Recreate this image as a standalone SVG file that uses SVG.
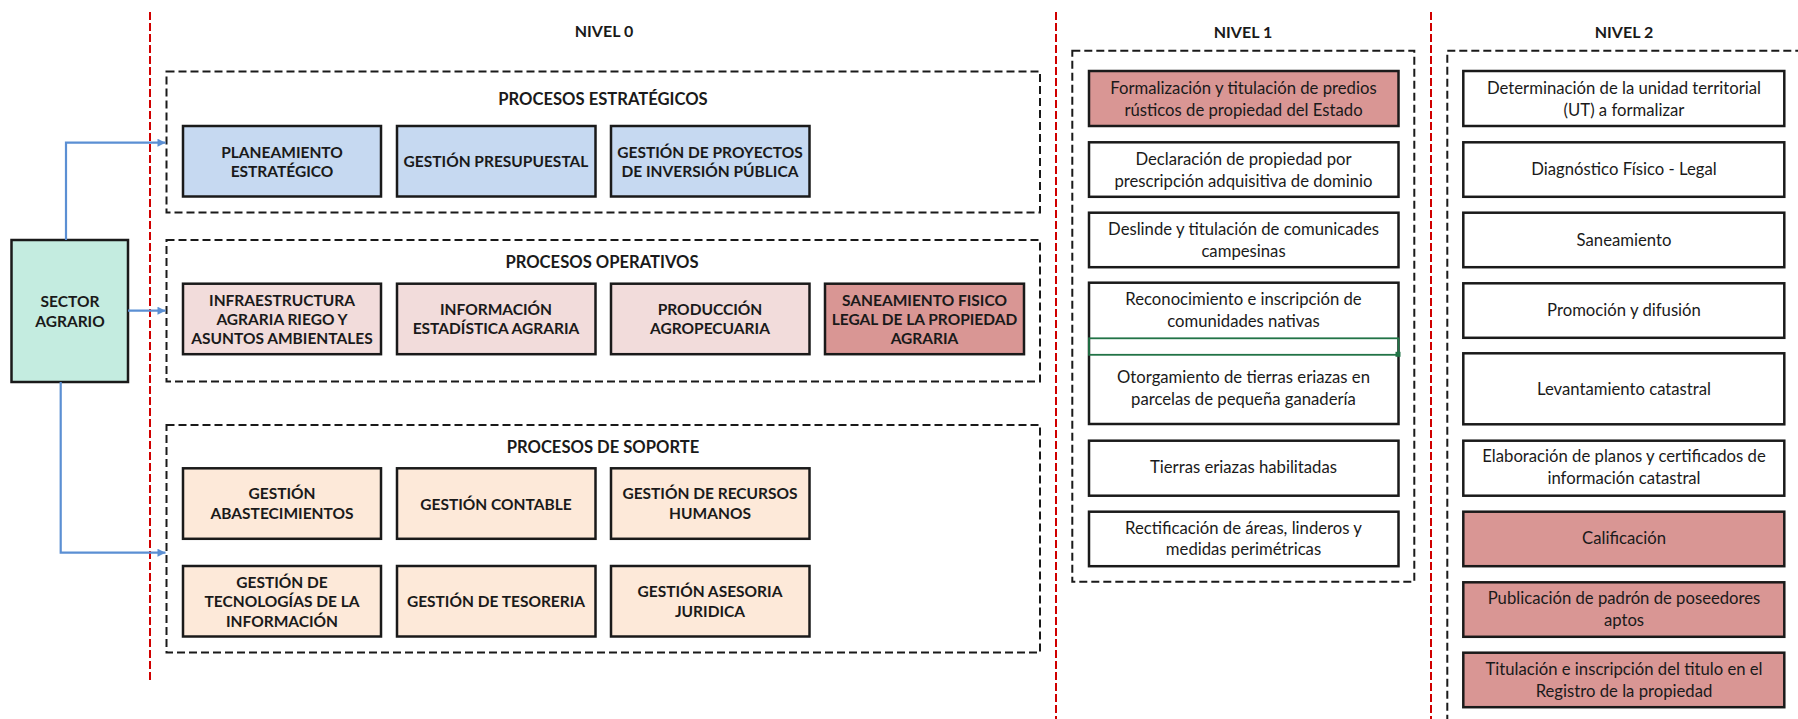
<svg xmlns="http://www.w3.org/2000/svg" width="1798" height="719" viewBox="0 0 1798 719">
  <style>
    text { font-family: Lato, "Open Sans", "Liberation Sans", sans-serif; fill: #1a1a1a; text-anchor: middle; }
    .hd { font-weight: 700; font-size: 16px; }
    .grp { font-weight: 700; font-size: 16.6px; }
    .b0 { font-weight: 700; font-size: 15.5px; }
    .lv { font-size: 16.7px; }
    .frame { fill: none; stroke: #1a1a1a; stroke-width: 2; stroke-dasharray: 8 4; }
    .divider { fill: none; stroke: #d00000; stroke-width: 2; stroke-dasharray: 8 3; }
    .box { stroke: #1a1a1a; stroke-width: 2.5; }
    .strat { fill: #c6d9f1; }
    .oper { fill: #f2dcdb; }
    .hot { fill: #d99694; }
    .supp { fill: #fde9d9; }
    .plain { fill: #ffffff; }
    .sector { fill: #c4ece0; }
    .conn { fill: none; stroke: #5b8fd3; stroke-width: 2.2; marker-end: url(#arr); }
  </style>
  <defs>
    <marker id="arr" viewBox="0 0 10 10" refX="10" refY="5" markerUnits="userSpaceOnUse" markerWidth="9" markerHeight="8" orient="auto">
      <path d="M0,0 L10,5 L0,10 z" fill="#5b8fd3"/>
    </marker>
  </defs>
  <rect width="1798" height="719" fill="#ffffff"/>

  <!-- column dividers -->
  <g id="dividers">
    <line class="divider" x1="150" y1="12" x2="150" y2="681"/>
    <line class="divider" x1="1056" y1="12" x2="1056" y2="719"/>
    <line class="divider" x1="1431" y1="12" x2="1431" y2="719"/>
  </g>

  <!-- column headings -->
  <g id="headings">
    <text class="hd" x="604" y="37">NIVEL 0</text>
    <text class="hd" x="1243" y="38">NIVEL 1</text>
    <text class="hd" x="1624" y="38">NIVEL 2</text>
  </g>

  <!-- process group frames -->
  <g id="grp-estrategicos">
    <rect class="frame" x="166.5" y="71.5" width="873.5" height="141"/>
    <text class="grp" x="603" y="105">PROCESOS ESTRATÉGICOS</text>
  </g>
  <g id="grp-operativos">
    <rect class="frame" x="166.5" y="240" width="873.5" height="141.5"/>
    <text class="grp" x="602" y="268">PROCESOS OPERATIVOS</text>
  </g>
  <g id="grp-soporte">
    <rect class="frame" x="166.5" y="425" width="873.5" height="227.5"/>
    <text class="grp" x="603" y="453">PROCESOS DE SOPORTE</text>
  </g>
  <g id="grp-nivel1">
    <rect class="frame" x="1072.3" y="50.7" width="342" height="531"/>
  </g>
  <g id="grp-nivel2">
    <rect class="frame" x="1447.3" y="50.7" width="420" height="720"/>
  </g>

  <!-- sector node -->
  <g id="sector-agrario">
    <rect class="box sector" x="11.5" y="240" width="116.5" height="142"/>
    <text class="b0" x="70" y="306.7">SECTOR</text>
    <text class="b0" x="70" y="326.7">AGRARIO</text>
  </g>

  <!-- strategic processes -->
  <g id="planeamiento">
    <rect class="box strat" x="183" y="126" width="198" height="70.5"/>
    <text class="b0" x="282" y="158">PLANEAMIENTO</text>
    <text class="b0" x="282" y="177">ESTRATÉGICO</text>
  </g>
  <g id="presupuestal">
    <rect class="box strat" x="397" y="126" width="198.5" height="70.5"/>
    <text class="b0" x="496" y="166.7">GESTIÓN PRESUPUESTAL</text>
  </g>
  <g id="proyectos">
    <rect class="box strat" x="611" y="126" width="198.5" height="70.5"/>
    <text class="b0" x="710" y="157.5">GESTIÓN DE PROYECTOS</text>
    <text class="b0" x="710" y="176.7">DE INVERSIÓN PÚBLICA</text>
  </g>

  <!-- operative processes -->
  <g id="infraestructura">
    <rect class="box oper" x="183" y="283.7" width="198" height="70.5"/>
    <text class="b0" x="282" y="306">INFRAESTRUCTURA</text>
    <text class="b0" x="282" y="325">AGRARIA RIEGO Y</text>
    <text class="b0" x="282" y="344">ASUNTOS AMBIENTALES</text>
  </g>
  <g id="informacion">
    <rect class="box oper" x="397" y="283.7" width="198.5" height="70.5"/>
    <text class="b0" x="496" y="315">INFORMACIÓN</text>
    <text class="b0" x="496" y="334">ESTADÍSTICA AGRARIA</text>
  </g>
  <g id="produccion">
    <rect class="box oper" x="611" y="283.7" width="198.5" height="70.5"/>
    <text class="b0" x="710" y="315">PRODUCCIÓN</text>
    <text class="b0" x="710" y="334">AGROPECUARIA</text>
  </g>
  <g id="saneamiento-fisico">
    <rect class="box hot" x="825" y="283.7" width="199" height="70.5"/>
    <text class="b0" x="924.5" y="306">SANEAMIENTO FISICO</text>
    <text class="b0" x="924.5" y="325">LEGAL DE LA PROPIEDAD</text>
    <text class="b0" x="924.5" y="344">AGRARIA</text>
  </g>

  <!-- support processes -->
  <g id="abastecimientos">
    <rect class="box supp" x="183" y="468.3" width="198" height="70.5"/>
    <text class="b0" x="282" y="499.3">GESTIÓN</text>
    <text class="b0" x="282" y="518.7">ABASTECIMIENTOS</text>
  </g>
  <g id="contable">
    <rect class="box supp" x="397" y="468.3" width="198.5" height="70.5"/>
    <text class="b0" x="496" y="510">GESTIÓN CONTABLE</text>
  </g>
  <g id="recursos-humanos">
    <rect class="box supp" x="611" y="468.3" width="198.5" height="70.5"/>
    <text class="b0" x="710" y="499.3">GESTIÓN DE RECURSOS</text>
    <text class="b0" x="710" y="518.7">HUMANOS</text>
  </g>
  <g id="tecnologias">
    <rect class="box supp" x="183" y="566" width="198" height="70.5"/>
    <text class="b0" x="282" y="588.3">GESTIÓN DE</text>
    <text class="b0" x="282" y="607.3">TECNOLOGÍAS DE LA</text>
    <text class="b0" x="282" y="626.7">INFORMACIÓN</text>
  </g>
  <g id="tesoreria">
    <rect class="box supp" x="397" y="566" width="198.5" height="70.5"/>
    <text class="b0" x="496" y="607.3">GESTIÓN DE TESORERIA</text>
  </g>
  <g id="asesoria">
    <rect class="box supp" x="611" y="566" width="198.5" height="70.5"/>
    <text class="b0" x="710" y="597.3">GESTIÓN ASESORIA</text>
    <text class="b0" x="710" y="616.7">JURIDICA</text>
  </g>

  <!-- level 1 -->
  <g id="n1-formalizacion">
    <rect class="box hot" x="1089" y="71" width="309.5" height="55"/>
    <text class="lv" x="1243.5" y="94">Formalización y titulación de predios</text>
    <text class="lv" x="1243.5" y="116">rústicos de propiedad del Estado</text>
  </g>
  <g id="n1-declaracion">
    <rect class="box plain" x="1089" y="142.3" width="309.5" height="54.5"/>
    <text class="lv" x="1243.5" y="165">Declaración de propiedad por</text>
    <text class="lv" x="1243.5" y="186.5">prescripción adquisitiva de dominio</text>
  </g>
  <g id="n1-deslinde">
    <rect class="box plain" x="1089" y="212.7" width="309.5" height="54.5"/>
    <text class="lv" x="1243.5" y="235">Deslinde y titulación de comunicades</text>
    <text class="lv" x="1243.5" y="256.7">campesinas</text>
  </g>
  <g id="n1-reconocimiento-otorgamiento">
    <rect class="box plain" x="1089" y="282.7" width="309.5" height="141.3"/>
    <text class="lv" x="1243.5" y="305">Reconocimiento e inscripción de</text>
    <text class="lv" x="1243.5" y="326.7">comunidades nativas</text>
    <rect x="1089" y="338.3" width="309.5" height="16.5" fill="none" stroke="#217346" stroke-width="1.8"/>
    <rect x="1395.5" y="351.8" width="5" height="5" fill="#217346"/>
    <text class="lv" x="1243.5" y="383.3">Otorgamiento de tierras eriazas en</text>
    <text class="lv" x="1243.5" y="405">parcelas de pequeña ganadería</text>
  </g>
  <g id="n1-tierras">
    <rect class="box plain" x="1089" y="440.7" width="309.5" height="55"/>
    <text class="lv" x="1243.5" y="473.3">Tierras eriazas habilitadas</text>
  </g>
  <g id="n1-rectificacion">
    <rect class="box plain" x="1089" y="511.7" width="309.5" height="54.5"/>
    <text class="lv" x="1243.5" y="533.5">Rectificación de áreas, linderos y</text>
    <text class="lv" x="1243.5" y="555">medidas perimétricas</text>
  </g>

  <!-- level 2 -->
  <g id="n2-determinacion">
    <rect class="box plain" x="1463.3" y="71" width="321" height="55"/>
    <text class="lv" x="1624" y="94">Determinación de la unidad territorial</text>
    <text class="lv" x="1624" y="115.5">(UT) a formalizar</text>
  </g>
  <g id="n2-diagnostico">
    <rect class="box plain" x="1463.3" y="142.3" width="321" height="54.5"/>
    <text class="lv" x="1624" y="175">Diagnóstico Físico - Legal</text>
  </g>
  <g id="n2-saneamiento">
    <rect class="box plain" x="1463.3" y="212.7" width="321" height="54.5"/>
    <text class="lv" x="1624" y="245.7">Saneamiento</text>
  </g>
  <g id="n2-promocion">
    <rect class="box plain" x="1463.3" y="283.3" width="321" height="54.5"/>
    <text class="lv" x="1624" y="316">Promoción y difusión</text>
  </g>
  <g id="n2-levantamiento">
    <rect class="box plain" x="1463.3" y="353.3" width="321" height="71"/>
    <text class="lv" x="1624" y="395">Levantamiento catastral</text>
  </g>
  <g id="n2-elaboracion">
    <rect class="box plain" x="1463.3" y="440.7" width="321" height="55"/>
    <text class="lv" x="1624" y="462.3">Elaboración de planos y certificados de</text>
    <text class="lv" x="1624" y="484.3">información catastral</text>
  </g>
  <g id="n2-calificacion">
    <rect class="box hot" x="1463.3" y="511.7" width="321" height="54.5"/>
    <text class="lv" x="1624" y="544.3">Calificación</text>
  </g>
  <g id="n2-publicacion">
    <rect class="box hot" x="1463.3" y="582.3" width="321" height="54.5"/>
    <text class="lv" x="1624" y="604.3">Publicación de padrón de poseedores</text>
    <text class="lv" x="1624" y="625.7">aptos</text>
  </g>
  <g id="n2-titulacion">
    <rect class="box hot" x="1463.3" y="652.7" width="321" height="54.5"/>
    <text class="lv" x="1624" y="675">Titulación e inscripción del titulo en el</text>
    <text class="lv" x="1624" y="696.7">Registro de la propiedad</text>
  </g>

  <!-- connectors from the sector node to the process groups -->
  <g id="connectors">
    <path class="conn" d="M66,240 V142.7 H165.5"/>
    <path class="conn" d="M128,310.7 H165.5"/>
    <path class="conn" d="M60.7,382 V552.7 H165.5"/>
  </g>
</svg>
